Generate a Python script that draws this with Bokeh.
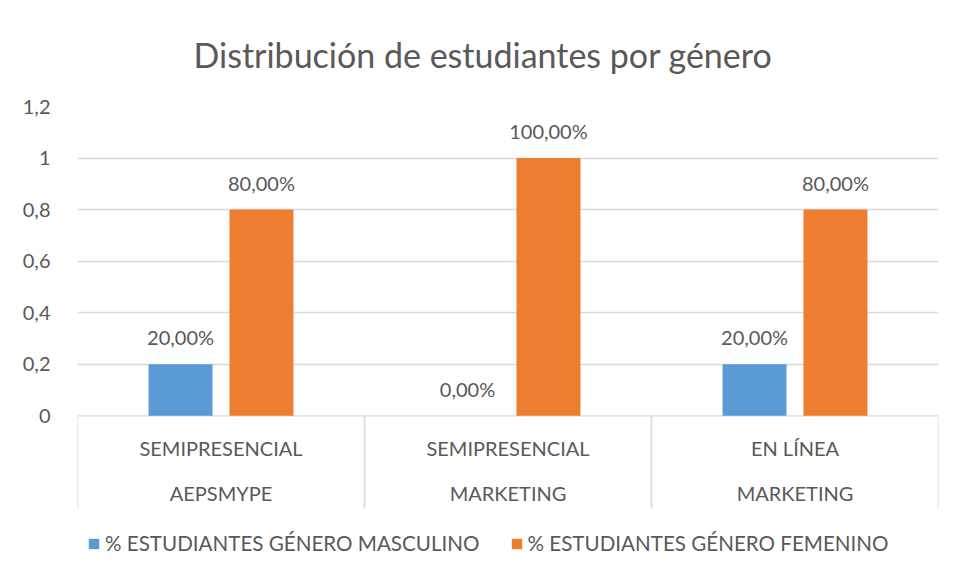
from bokeh.plotting import figure
from bokeh.models import (ColumnDataSource, FactorRange, Range1d, FixedTicker,
                          CustomJSTickFormatter, Legend, LegendItem)
from bokeh.transform import dodge
from bokeh.core.properties import value
from bokeh.embed import file_html
from bokeh.resources import INLINE

categories = ["SEMIPRESENCIAL AEPSMYPE", "SEMIPRESENCIAL MARKETING", "EN LÍNEA MARKETING"]
cat_line1 = ["SEMIPRESENCIAL", "SEMIPRESENCIAL", "EN LÍNEA"]
cat_line2 = ["AEPSMYPE", "MARKETING", "MARKETING"]
masculino = [0.2, 0.0, 0.2]
femenino = [0.8, 1.0, 0.8]
y_ticks = [0, 0.2, 0.4, 0.6, 0.8, 1.0, 1.2]
series_names = ["% ESTUDIANTES GÉNERO MASCULINO", "% ESTUDIANTES GÉNERO FEMENINO"]

BLUE = "#5B9BD5"
ORANGE = "#ED7D31"
GRID = "#D9D9D9"
TXT = "#595959"
FONT = "Lato"

def pct(v):
    return f"{v*100:.2f}%".replace(".", ",")

src = ColumnDataSource(dict(
    cat=categories, m=masculino, f=femenino,
    ml=[pct(v) for v in masculino], fl=[pct(v) for v in femenino],
    l1=cat_line1, l2=cat_line2,
    zero=[0.0] * len(categories), low=[-0.36] * len(categories),
))

p = figure(width=940, height=563, output_backend="svg", toolbar_location=None,
           x_range=FactorRange(factors=categories, range_padding=0),
           y_range=Range1d(-0.573, 1.2),
           min_border_left=77, min_border_right=2, min_border_top=105,
           min_border_bottom=0)

p.title.text = "Distribución de estudiantes por género"
p.title.align = "left"
p.title.offset = 116
p.title.text_font = FONT
p.title.text_font_size = "34px"
p.title.text_font_style = "normal"
p.title.text_color = TXT
p.title.standoff = 63

p.outline_line_color = None
p.background_fill_color = "white"
p.border_fill_color = "white"

# y axis
p.yaxis.ticker = FixedTicker(ticks=y_ticks)
p.yaxis.formatter = CustomJSTickFormatter(
    code="return (Math.round(tick*10)/10).toString().replace('.', ',');")
p.yaxis.axis_line_color = None
p.yaxis.major_tick_line_color = None
p.yaxis.minor_tick_line_color = None
p.yaxis.major_label_text_font = FONT
p.yaxis.major_label_text_font_size = "20px"
p.yaxis.major_label_text_color = TXT
p.yaxis.major_label_standoff = 21
p.xaxis.visible = False
p.xgrid.grid_line_color = None
p.ygrid.ticker = FixedTicker(ticks=[0.2, 0.4, 0.6, 0.8, 1.0, 1.2])
p.ygrid.grid_line_color = GRID
p.ygrid.grid_line_width = 1.3

# category axis: baseline and separators
p.segment(x0=dodge("cat", -0.5, range=p.x_range), y0="zero",
          x1=dodge("cat", 0.5, range=p.x_range), y1="zero", source=src,
          line_color=GRID, line_width=1.3)
p.segment(x0=dodge("cat", -0.5, range=p.x_range), y0="zero",
          x1=dodge("cat", -0.5, range=p.x_range), y1="low", source=src,
          line_color=GRID, line_width=1.3)
p.segment(x0=dodge("cat", 0.5, range=p.x_range), y0="zero",
          x1=dodge("cat", 0.5, range=p.x_range), y1="low", source=src,
          line_color=GRID, line_width=1.3)

bw = 0.223
off = 0.141
rm = p.vbar(x=dodge("cat", -off, range=p.x_range), top="m", width=bw, source=src,
            fill_color=BLUE, line_color=None)
rf = p.vbar(x=dodge("cat", off, range=p.x_range), top="f", width=bw, source=src,
            fill_color=ORANGE, line_color=None)

p.text(x=dodge("cat", -off, range=p.x_range), y="m", text="ml", source=src,
       text_align="center", text_baseline="alphabetic", y_offset=-27,
       text_font=value(FONT), text_font_size="20px", text_color=TXT)
p.text(x=dodge("cat", off, range=p.x_range), y="f", text="fl", source=src,
       text_align="center", text_baseline="alphabetic", y_offset=-27,
       text_font=value(FONT), text_font_size="20px", text_color=TXT)

# category labels
p.text(x="cat", y=-0.124, text="l1", source=src, text_align="center",
       text_baseline="middle", text_font=value(FONT), text_font_size="20px",
       text_color=TXT)
p.text(x="cat", y=-0.298, text="l2", source=src, text_align="center",
       text_baseline="middle", text_font=value(FONT), text_font_size="20px",
       text_color=TXT)

legend = Legend(items=[LegendItem(label=series_names[0], renderers=[rm]),
                       LegendItem(label=series_names[1], renderers=[rf])],
                orientation="horizontal", location=(10, 8),
                border_line_color=None, background_fill_alpha=0,
                label_text_font=FONT, label_text_font_size="20.6px",
                label_text_color=TXT, glyph_width=13, glyph_height=13,
                label_standoff=5, spacing=30, margin=0, padding=4)
p.add_layout(legend)

open("out.html", "w").write(file_html(p, INLINE))
